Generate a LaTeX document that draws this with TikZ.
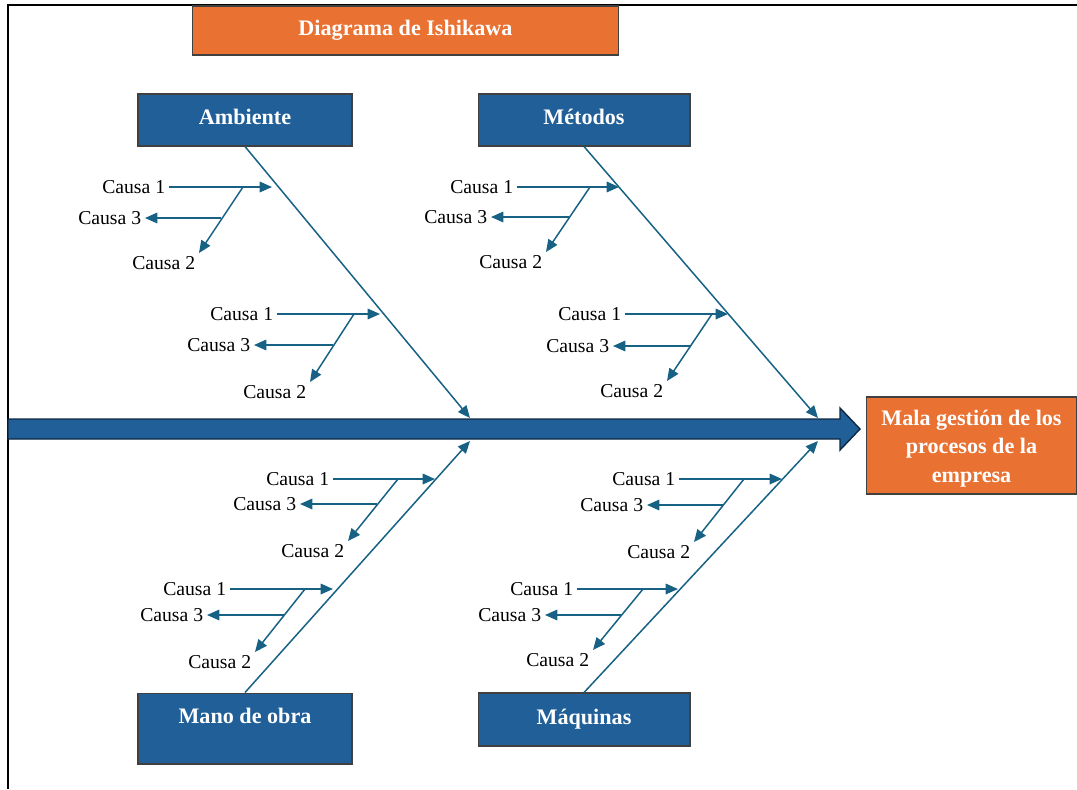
\documentclass[tikz,border=0pt]{standalone}
\usepackage{fontspec}
\setmainfont{Liberation Serif}
\usetikzlibrary{arrows.meta}

\definecolor{cajaazul}{RGB}{33,95,153}
\definecolor{espina}{RGB}{22,97,132}
\definecolor{naranja}{RGB}{233,113,50}
\definecolor{borde}{RGB}{14,40,65}

\tikzset{
  caja/.style={draw=black!75, line width=0.6pt, fill=cajaazul, text=white,
    font=\fontsize{12.6}{15}\selectfont\bfseries, inner sep=0pt,
    minimum width=4.28cm, minimum height=1.04cm},
  cajanaranja/.style={caja, fill=naranja},
  causa/.style={inner sep=2pt, font=\fontsize{11.2}{13}\selectfont},
  flecha/.style={draw=espina, line width=0.85pt, -{Triangle[length=7pt,width=6pt]}},
}

\begin{document}
\begin{tikzpicture}[x=0.02cm, y=-0.02cm]
      \useasboundingbox (0,0) rectangle (1077,789);
      \draw[line width=1.1pt] (1077,5) -- (8,5) -- (8,789);
      % cajas
      \path
        (405.5,30.5) node[cajanaranja, minimum width=8.54cm, minimum height=0.98cm, text depth=0.1cm] (titulo) {Diagrama de Ishikawa}
        (245,120) node[caja, text depth=0.12cm] (amb) {Ambiente}
        (584,120) node[caja, minimum width=4.24cm, text depth=0.12cm] (met) {Métodos}
        (245,728.5) node[caja, minimum height=1.42cm, text depth=0.5cm] (mano) {Mano de obra}
        (584,719.5) node[caja, minimum width=4.24cm, minimum height=1.06cm, text depth=0.1cm] (maq) {Máquinas}
        (971.5,445.5) node[cajanaranja, minimum width=4.22cm, minimum height=1.94cm,
          align=center, font=\fontsize{12.6}{16.2}\selectfont\bfseries] (efecto)
          {\\[-4pt]Mala gestión de los\\procesos de la\\empresa};
      % espina central
      \fill[cajaazul, draw=borde, line width=0.8pt] (8,419) -- (840,419) -- (840,408)
        -- (860,429) -- (840,450) -- (840,439) -- (8,439) -- cycle;
      \path
        (470,418) coordinate (ambt)
        (818,418) coordinate (mett)
        (470,441) coordinate (manot)
        (818,441) coordinate (maqt);
      % causas
      \path
        (169,187) node[causa, anchor=east] (a1c1) {Causa 1}
        (145,218) node[causa, anchor=east] (a1c3) {Causa 3}
        (199,253) node[causa, anchor=north east] (a1c2) {Causa 2}
        (272,187) coordinate (a1p) (243,187) coordinate (a1d) (221,218) coordinate (a1m)
        (277,314) node[causa, anchor=east] (a2c1) {Causa 1}
        (254,345) node[causa, anchor=east] (a2c3) {Causa 3}
        (310,382) node[causa, anchor=north east] (a2c2) {Causa 2}
        (380,314) coordinate (a2p) (354,314) coordinate (a2d) (333,345) coordinate (a2m)
        (517,187) node[causa, anchor=east] (m1c1) {Causa 1}
        (491,217) node[causa, anchor=east] (m1c3) {Causa 3}
        (546,252) node[causa, anchor=north east] (m1c2) {Causa 2}
        (619,187) coordinate (m1p) (590,187) coordinate (m1d) (569,217) coordinate (m1m)
        (625,314) node[causa, anchor=east] (m2c1) {Causa 1}
        (613,346) node[causa, anchor=east] (m2c3) {Causa 3}
        (667,381) node[causa, anchor=north east] (m2c2) {Causa 2}
        (728,314) coordinate (m2p) (712,314) coordinate (m2d) (690,346) coordinate (m2m)
        (333,479) node[causa, anchor=east] (o1c1) {Causa 1}
        (300,504) node[causa, anchor=east] (o1c3) {Causa 3}
        (348,541) node[causa, anchor=north east] (o1c2) {Causa 2}
        (435,479) coordinate (o1p) (398,479) coordinate (o1d) (377,504) coordinate (o1m)
        (230,589) node[causa, anchor=east] (o2c1) {Causa 1}
        (207,615) node[causa, anchor=east] (o2c3) {Causa 3}
        (255,652) node[causa, anchor=north east] (o2c2) {Causa 2}
        (333,589) coordinate (o2p) (305,589) coordinate (o2d) (284,615) coordinate (o2m)
        (679,479) node[causa, anchor=east] (q1c1) {Causa 1}
        (647,505) node[causa, anchor=east] (q1c3) {Causa 3}
        (694,542) node[causa, anchor=north east] (q1c2) {Causa 2}
        (782,479) coordinate (q1p) (744,479) coordinate (q1d) (723,505) coordinate (q1m)
        (577,589) node[causa, anchor=east] (q2c1) {Causa 1}
        (545,615) node[causa, anchor=east] (q2c3) {Causa 3}
        (593,650) node[causa, anchor=north east] (q2c2) {Causa 2}
        (678,589) coordinate (q2p) (643,589) coordinate (q2d) (621,615) coordinate (q2m);
      \begin{scope}[flecha]
        \draw (amb.south) to (ambt);
        \draw (met.south) to (mett);
        \draw (mano.north) to (manot);
        \draw (maq.north) to (maqt);
        \draw (a1c1) to (a1p);
        \draw (a1d) to (a1c2.north east);
        \draw (a1m) to (a1c3);
        \draw (a2c1) to (a2p);
        \draw (a2d) to (a2c2.north east);
        \draw (a2m) to (a2c3);
        \draw (m1c1) to (m1p);
        \draw (m1d) to (m1c2.north east);
        \draw (m1m) to (m1c3);
        \draw (m2c1) to (m2p);
        \draw (m2d) to (m2c2.north east);
        \draw (m2m) to (m2c3);
        \draw (o1c1) to (o1p);
        \draw (o1d) to (o1c2.north east);
        \draw (o1m) to (o1c3);
        \draw (o2c1) to (o2p);
        \draw (o2d) to (o2c2.north east);
        \draw (o2m) to (o2c3);
        \draw (q1c1) to (q1p);
        \draw (q1d) to (q1c2.north east);
        \draw (q1m) to (q1c3);
        \draw (q2c1) to (q2p);
        \draw (q2d) to (q2c2.north east);
        \draw (q2m) to (q2c3);
      \end{scope}
    \end{tikzpicture}
\end{document}
